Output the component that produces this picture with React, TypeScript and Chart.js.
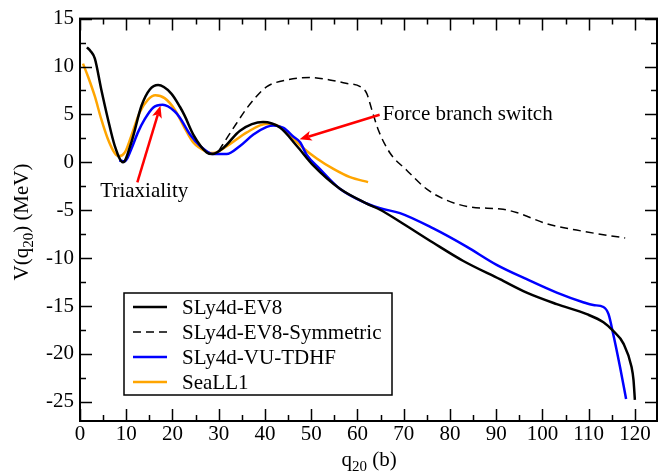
import { useEffect, useRef } from 'react';
import { Chart, registerables } from 'chart.js';

Chart.register(...registerables);

const FONT = '"Liberation Serif", "Times New Roman", Times, serif';
Chart.defaults.font.family = FONT;
Chart.defaults.color = '#000';

// ---- data (q20 in barn, V in MeV) ----
const ev8X = [1.5, 2.3, 3.2, 4.6, 6.05, 7.5, 9.3, 11.1, 13.3, 15.1, 16.9, 19.7, 21.6, 22.6, 24.5, 27.4, 28.6, 31, 34.6, 39.6, 43.3, 46.9, 50.5, 56.2, 62, 64.9, 69.2, 76.4, 82.9, 90.8, 96.6, 103.1, 109.6, 113.2, 115.3, 117.5, 119.3, 119.7, 120];
const ev8Y = [12.0, 11.6, 10.85, 7.6, 4.5, 1.75, 0.0, 2.07, 5.9, 7.6, 8.06, 7.2, 5.8, 4.9, 2.9, 1.03, 0.86, 1.5, 3.3, 4.2, 3.6, 1.7, -0.35, -2.76, -4.3, -4.95, -6.2, -8.4, -10.3, -12.2, -13.6, -14.8, -15.85, -16.7, -17.6, -18.9, -21.4, -22.7, -24.8];

const symX = [30, 32, 33.9, 36, 38.2, 40.4, 44.7, 50, 54, 57.5, 60.6, 62, 63.1, 64.5, 67, 70.6, 75, 79.3, 84.3, 91.5, 94.4, 100.9, 108.8, 117.9];
const symY = [1.2, 2.7, 4.1, 5.6, 6.9, 7.9, 8.6, 8.85, 8.6, 8.25, 7.9, 7.2, 5.5, 3.4, 1.0, -0.8, -2.8, -3.96, -4.65, -4.9, -5.24, -6.4, -7.2, -7.9];

const vuX = [8.5, 9.7, 11.1, 12.5, 14, 15.8, 17.9, 20.5, 21.6, 23.8, 26, 28.8, 31.7, 34.6, 37.5, 40.4, 41.8, 44, 46.1, 47.6, 49, 51.9, 56.2, 62, 64.9, 69.2, 76.4, 83.6, 90.1, 96.6, 103.1, 108.8, 111, 113.2, 114.3, 115.3, 116.8, 118.1];
const vuY = [0.2, 0.1, 1.4, 3.1, 4.5, 5.7, 6.0, 5.3, 4.65, 2.9, 1.7, 0.86, 0.86, 1.7, 2.9, 3.7, 3.85, 3.6, 2.7, 2.1, 0.8, -0.7, -2.76, -4.3, -4.8, -5.3, -6.9, -8.8, -10.7, -12.2, -13.6, -14.6, -14.9, -15.1, -15.85, -17.9, -21.4, -24.7];

const seaX = [0.65, 1.73, 3.2, 4.6, 6.05, 7.5, 8.4, 9.7, 11.1, 12.9, 14.7, 16.3, 18.3, 20.5, 22.6, 24.5, 27.4, 28.8, 32.4, 36, 40.4, 43.3, 46.1, 48, 51.2, 54.8, 58.4, 62.3];
const seaY = [10.3, 8.96, 6.9, 4.5, 2.4, 0.96, 0.62, 1.03, 2.76, 5.2, 6.55, 7.0, 6.7, 5.5, 3.6, 2.07, 1.1, 0.96, 1.9, 3.1, 4.03, 3.7, 2.5, 1.6, 0.4, -0.69, -1.55, -2.07];

const seriesLabels = ['SLy4d-EV8', 'SLy4d-EV8-Symmetric', 'SLy4d-VU-TDHF', 'SeaLL1'];

const xTicks = [0, 10, 20, 30, 40, 50, 60, 70, 80, 90, 100, 110, 120];
const xMinorTicks = [5, 15, 25, 35, 45, 55, 65, 75, 85, 95, 105, 115];
const yTicks = [15, 10, 5, 0, -5, -10, -15, -20, -25];
const yMinorTicks = [12.5, 7.5, 2.5, -2.5, -7.5, -12.5, -17.5, -22.5];

// annotations (data coordinates)
const triaxText = { x: 13.9, y: -3.0, text: 'Triaxiality' };
const triaxArrow = { x1: 12.4, y1: -2.1, x2: 17.4, y2: 5.9 };
const forceText = { x: 65.4, y: 4.96, text: 'Force branch switch' };
const forceArrow = { x1: 64.8, y1: 4.96, x2: 47.5, y2: 2.4 };

const toPts = (xs: number[], ys: number[]) => xs.map((x, i) => ({ x, y: ys[i] }));

type Part = { t: string; sub?: boolean };

function drawRich(ctx: CanvasRenderingContext2D, parts: Part[], cx: number, baseline: number) {
  const main = `21px ${FONT}`;
  const small = `15px ${FONT}`;
  let total = 0;
  for (const p of parts) {
    ctx.font = p.sub ? small : main;
    total += ctx.measureText(p.t).width;
  }
  let x = cx - total / 2;
  ctx.textAlign = 'left';
  ctx.textBaseline = 'alphabetic';
  for (const p of parts) {
    ctx.font = p.sub ? small : main;
    ctx.fillText(p.t, x, baseline + (p.sub ? 5 : 0));
    x += ctx.measureText(p.t).width;
  }
}

function drawArrow(ctx: CanvasRenderingContext2D, x1: number, y1: number, x2: number, y2: number) {
  const ang = Math.atan2(y2 - y1, x2 - x1);
  const hl = 12, hw = 5;
  const bx = x2 - hl * Math.cos(ang), by = y2 - hl * Math.sin(ang);
  ctx.strokeStyle = '#ff0000';
  ctx.fillStyle = '#ff0000';
  ctx.lineWidth = 2.5;
  ctx.beginPath();
  ctx.moveTo(x1, y1);
  ctx.lineTo(bx + 3 * Math.cos(ang), by + 3 * Math.sin(ang));
  ctx.stroke();
  ctx.beginPath();
  ctx.moveTo(x2, y2);
  ctx.lineTo(bx - hw * Math.sin(ang), by + hw * Math.cos(ang));
  ctx.lineTo(bx + 3 * Math.cos(ang), by + 3 * Math.sin(ang));
  ctx.lineTo(bx + hw * Math.sin(ang), by - hw * Math.cos(ang));
  ctx.closePath();
  ctx.fill();
}

const decorPlugin = {
  id: 'decor',
  afterDatasetsDraw(chart: any) {
    const ctx: CanvasRenderingContext2D = chart.ctx;
    const { left, right, top, bottom } = chart.chartArea;
    const xs = chart.scales.x, ys = chart.scales.y;
    ctx.save();
    // annotations
    const ax1 = xs.getPixelForValue(triaxArrow.x1), ay1 = ys.getPixelForValue(triaxArrow.y1);
    const ax2 = xs.getPixelForValue(triaxArrow.x2), ay2 = ys.getPixelForValue(triaxArrow.y2);
    drawArrow(ctx, ax1, ay1, ax2, ay2);
    const bx1 = xs.getPixelForValue(forceArrow.x1), by1 = ys.getPixelForValue(forceArrow.y1);
    const bx2 = xs.getPixelForValue(forceArrow.x2), by2 = ys.getPixelForValue(forceArrow.y2);
    drawArrow(ctx, bx1, by1, bx2, by2);
    ctx.fillStyle = '#000';
    ctx.font = `21px ${FONT}`;
    ctx.textBaseline = 'middle';
    ctx.textAlign = 'center';
    ctx.fillText(triaxText.text, xs.getPixelForValue(triaxText.x), ys.getPixelForValue(triaxText.y));
    ctx.textAlign = 'left';
    ctx.fillText(forceText.text, xs.getPixelForValue(forceText.x), ys.getPixelForValue(forceText.y));

    // frame
    ctx.strokeStyle = '#000';
    ctx.lineWidth = 2;
    const r = right - 1;
    ctx.strokeRect(left, top, r - left, bottom - top);
    ctx.lineWidth = 1.5;
    ctx.beginPath();
    const tick = (vals: number[], len: number) => {
      for (const v of vals) {
        const p = Math.round(xs.getPixelForValue(v)) + 0.5;
        ctx.moveTo(p, bottom); ctx.lineTo(p, bottom - len);
        ctx.moveTo(p, top); ctx.lineTo(p, top + len);
      }
    };
    const ytick = (vals: number[], len: number) => {
      for (const v of vals) {
        const p = Math.round(ys.getPixelForValue(v)) + 0.5;
        ctx.moveTo(left, p); ctx.lineTo(left + len, p);
        ctx.moveTo(r, p); ctx.lineTo(r - len, p);
      }
    };
    tick(xTicks, 12); tick(xMinorTicks, 6);
    ytick(yTicks, 12); ytick(yMinorTicks, 6);
    ctx.stroke();

    // legend
    const lx = 124, ly = 293, lw = 268, lh = 102;
    ctx.fillStyle = '#fff';
    ctx.fillRect(lx, ly, lw, lh);
    ctx.lineWidth = 1.5;
    ctx.strokeStyle = '#000';
    ctx.strokeRect(lx, ly, lw, lh);
    chart.data.datasets.forEach((ds: any, i: number) => {
      const yy = 307 + i * 25;
      ctx.strokeStyle = ds.borderColor;
      ctx.lineWidth = ds.borderWidth;
      ctx.setLineDash(ds.borderDash || []);
      ctx.beginPath();
      ctx.moveTo(133, yy);
      ctx.lineTo(167, yy);
      ctx.stroke();
      ctx.setLineDash([]);
      ctx.fillStyle = '#000';
      ctx.font = `21px ${FONT}`;
      ctx.textAlign = 'left';
      ctx.textBaseline = 'middle';
      ctx.fillText(ds.label, 182, yy + 1);
    });

    // axis titles
    ctx.fillStyle = '#000';
    drawRich(ctx, [{ t: 'q' }, { t: '20', sub: true }, { t: ' (b)' }], (left + right) / 2, 466);
    ctx.save();
    ctx.translate(28, 222);
    ctx.rotate(-Math.PI / 2);
    drawRich(ctx, [{ t: 'V(q' }, { t: '20', sub: true }, { t: ') (MeV)' }], 0, 0);
    ctx.restore();
    ctx.restore();
  },
};

export default function App() {
  const ref = useRef<HTMLCanvasElement>(null);
  useEffect(() => {
    const tickFont = { family: FONT, size: 21 };
    const chart = new Chart(ref.current!, {
      type: 'line',
      data: {
        datasets: [
          { label: seriesLabels[0], data: toPts(ev8X, ev8Y), borderColor: '#000000', borderWidth: 2.5, pointRadius: 0, cubicInterpolationMode: 'monotone', fill: false },
          { label: seriesLabels[1], data: toPts(symX, symY), borderColor: '#000000', borderWidth: 1.5, borderDash: [8, 5], pointRadius: 0, cubicInterpolationMode: 'monotone', fill: false },
          { label: seriesLabels[2], data: toPts(vuX, vuY), borderColor: '#0000ff', borderWidth: 2.5, pointRadius: 0, cubicInterpolationMode: 'monotone', fill: false },
          { label: seriesLabels[3], data: toPts(seaX, seaY), borderColor: '#ffa500', borderWidth: 2.5, pointRadius: 0, cubicInterpolationMode: 'monotone', fill: false },
        ],
      } as any,
      options: {
        responsive: false,
        animation: false,
        devicePixelRatio: 1,
        layout: { padding: { top: 15, right: 0, left: 0, bottom: 0 } },
        plugins: { legend: { display: false }, tooltip: { enabled: false }, title: { display: false } },
        scales: {
          x: {
            type: 'linear', min: 0, max: 125,
            grid: { display: false, drawTicks: false },
            border: { display: false },
            ticks: { font: tickFont, color: '#000', padding: 1, maxRotation: 0, autoSkip: false },
            afterBuildTicks: (s: any) => { s.ticks = xTicks.map((v) => ({ value: v })); },
            afterFit: (s: any) => { s.height = 53; },
          },
          y: {
            type: 'linear', min: -27, max: 15,
            grid: { display: false, drawTicks: false },
            border: { display: false },
            ticks: { font: tickFont, color: '#000', padding: 6, autoSkip: false },
            afterBuildTicks: (s: any) => { s.ticks = yTicks.map((v) => ({ value: v })); },
            afterFit: (s: any) => { s.width = 80; },
          },
        },
      } as any,
      plugins: [decorPlugin],
    });
    return () => chart.destroy();
  }, []);
  return (
    <div style={{ position: 'absolute', left: 0, top: 0, width: 658, height: 474, background: '#fff' }}>
      <canvas ref={ref} width={658} height={474} style={{ display: 'block' }} />
    </div>
  );
}
